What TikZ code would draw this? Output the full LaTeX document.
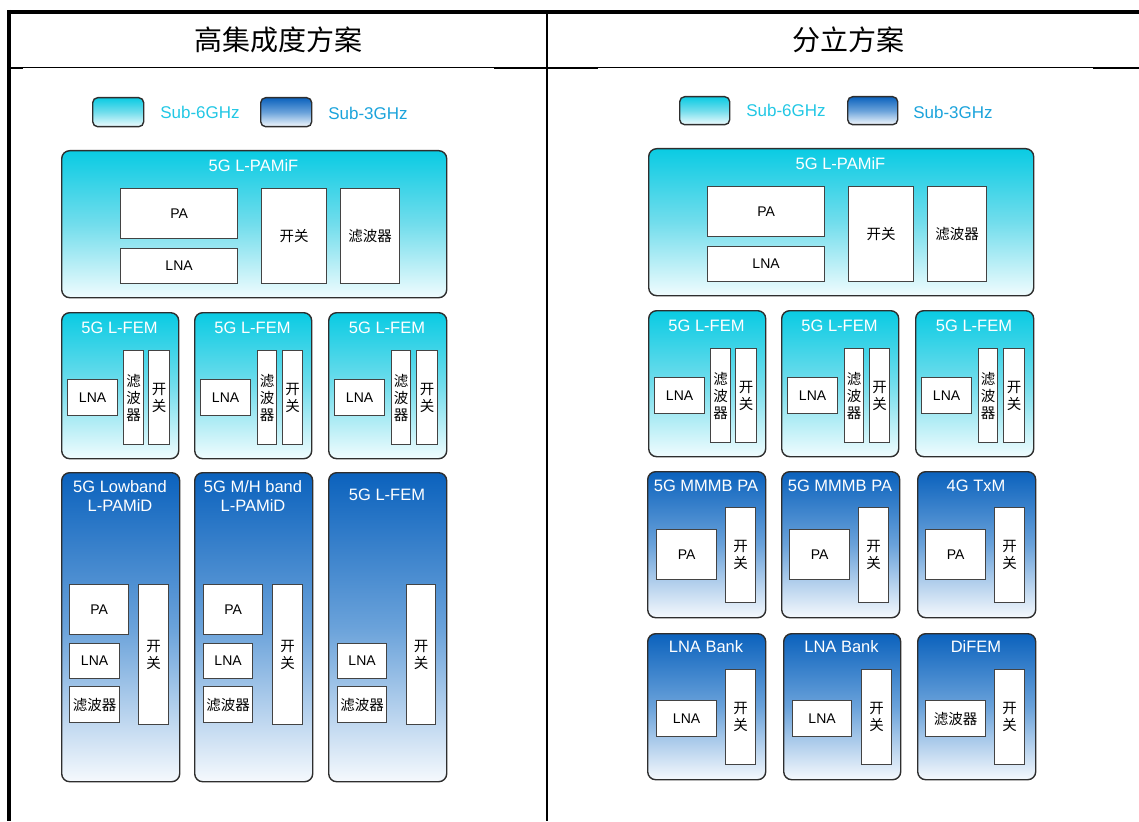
\documentclass[tikz,border=0pt]{standalone}
\usepackage{fontspec}
\setmainfont{Liberation Sans}
\newfontfamily\cjk{Noto Sans CJK SC}
\definecolor{sixtop}{HTML}{0ACBE3}
\definecolor{sixmid}{HTML}{72DDEC}
\definecolor{sixbot}{HTML}{F0FCFE}
\definecolor{thrtop}{HTML}{0B62BD}
\definecolor{thrmid}{HTML}{6AA2DA}
\definecolor{thrbot}{HTML}{F5F9FD}
\definecolor{edge}{HTML}{2E2E2E}
\definecolor{legsix}{HTML}{22C7E4}
\definecolor{legthr}{HTML}{1BA3DB}
\tikzset{
  six/.style={draw=edge, line width=1.4pt, rounded corners=8pt, top color=sixtop, bottom color=sixbot, middle color=sixmid, inner sep=0pt},
  thr/.style={draw=edge, line width=1.4pt, rounded corners=8pt, top color=thrtop, bottom color=thrbot, middle color=thrmid, inner sep=0pt},
  lsix/.style={six, rounded corners=5pt},
  lthr/.style={thr, rounded corners=5pt},
  part/.style={draw=edge!90, line width=1.2pt, fill=white, inner sep=0pt, align=center, font=\fontsize{14}{17}\selectfont},
  zpart/.style={part, font=\cjk\fontsize{14.5}{17}\selectfont},
  ttl/.style={text=white, align=center, inner sep=0pt, font=\fontsize{16.5}{19}\selectfont},
  legtxt/.style={inner sep=0pt, font=\fontsize{17}{20}\selectfont},
  head/.style={inner sep=0pt, font=\cjk\fontsize{28}{30}\selectfont}
}
\newcommand\bx[7]{\node[#1, anchor=north west, minimum width={#5-#3}, minimum height={#6-#4}] (#2) at (#3,#4) {#7};}
\begin{document}
\begin{tikzpicture}[x=1pt,y=-1pt]
\useasboundingbox (0,0) rectangle (1139,821);
% table lines
\draw[line width=4pt] (7,12) -- (1139,12);
\draw[line width=4pt] (9,10) -- (9,821);
\draw[line width=1.2pt] (9,67.5) -- (1139,67.5);
\draw[line width=2pt] (11,68) -- (23,68) (494,68) -- (598,68) (1093,68) -- (1139,68);
\draw[line width=2pt] (547,12) -- (547,821);
% headers
\node[head] (h1) at (278.5,40) {高集成度方案};
\node[head] (h2) at (848,40) {分立方案};
% legends
\bx{lsix}{lg1}{92}{97}{143}{126}{}
\node[legtxt, text=legsix] (lt1) at (200,112) {Sub-6GHz};
\bx{lthr}{lg2}{260}{97}{311}{126}{}
\node[legtxt, text=legthr] (lt2) at (368,113) {Sub-3GHz};
\bx{lsix}{lg3}{679}{96}{729}{124}{}
\node[legtxt, text=legsix] (lt3) at (786,110) {Sub-6GHz};
\bx{lthr}{lg4}{847}{96}{897}{124}{}
\node[legtxt, text=legthr] (lt4) at (953,112) {Sub-3GHz};

% ===== left column =====
\bx{six}{A}{61}{150}{446}{297}{}
\node[ttl] (At) at (253.5,166) {5G L-PAMiF};
\bx{part}{Apa}{120}{188}{237}{238}{PA}
\bx{part}{Alna}{120}{248}{237}{283}{LNA}
\bx{zpart}{Asw}{261}{188}{326}{283}{开关}
\bx{zpart}{Aflt}{340}{188}{399}{283}{滤波器}

\bx{six}{B1}{61}{312}{178}{458}{}
\node[ttl] (B1t) at (119.5,328) {5G L-FEM};
\bx{part}{B1lna}{67}{379}{117}{415}{LNA}
\bx{zpart}{B1flt}{123}{350}{143}{444}{滤\\波\\器}
\bx{zpart}{B1sw}{148}{350}{169}{444}{开\\关}

\bx{six}{B2}{194}{312}{311}{458}{}
\node[ttl] (B2t) at (252.5,328) {5G L-FEM};
\bx{part}{B2lna}{200}{379}{250}{415}{LNA}
\bx{zpart}{B2flt}{257}{350}{276}{444}{滤\\波\\器}
\bx{zpart}{B2sw}{282}{350}{302}{444}{开\\关}

\bx{six}{B3}{328}{312}{446}{458}{}
\node[ttl] (B3t) at (387,328) {5G L-FEM};
\bx{part}{B3lna}{334}{379}{384}{415}{LNA}
\bx{zpart}{B3flt}{391}{350}{410}{444}{滤\\波\\器}
\bx{zpart}{B3sw}{416}{350}{437}{444}{开\\关}

\bx{thr}{C1}{61}{472}{179}{781}{}
\node[ttl] (C1t) at (120,496) {5G Lowband\\L-PAMiD};
\bx{part}{C1pa}{69}{584}{128}{634}{PA}
\bx{part}{C1lna}{69}{643}{119}{678}{LNA}
\bx{zpart}{C1flt}{69}{686}{119}{722}{滤波器}
\bx{zpart}{C1sw}{138}{584}{168}{724}{开\\关}

\bx{thr}{C2}{194}{472}{312}{781}{}
\node[ttl] (C2t) at (253,496) {5G M/H band\\L-PAMiD};
\bx{part}{C2pa}{203}{584}{262}{634}{PA}
\bx{part}{C2lna}{203}{643}{252}{678}{LNA}
\bx{zpart}{C2flt}{203}{686}{252}{722}{滤波器}
\bx{zpart}{C2sw}{272}{584}{302}{724}{开\\关}

\bx{thr}{C3}{328}{472}{446}{781}{}
\node[ttl] (C3t) at (387,495) {5G L-FEM};
\bx{part}{C3lna}{337}{643}{386}{678}{LNA}
\bx{zpart}{C3flt}{337}{686}{386}{722}{滤波器}
\bx{zpart}{C3sw}{406}{584}{435}{724}{开\\关}

% ===== right column =====
\bx{six}{D}{648}{148}{1033}{295}{}
\node[ttl] (Dt) at (840.5,164) {5G L-PAMiF};
\bx{part}{Dpa}{707}{186}{824}{236}{PA}
\bx{part}{Dlna}{707}{246}{824}{281}{LNA}
\bx{zpart}{Dsw}{848}{186}{913}{281}{开关}
\bx{zpart}{Dflt}{927}{186}{986}{281}{滤波器}

\bx{six}{E1}{648}{310}{765}{456}{}
\node[ttl] (E1t) at (706.5,326) {5G L-FEM};
\bx{part}{E1lna}{654}{377}{704}{413}{LNA}
\bx{zpart}{E1flt}{710}{348}{730}{442}{滤\\波\\器}
\bx{zpart}{E1sw}{735}{348}{756}{442}{开\\关}

\bx{six}{E2}{781}{310}{898}{456}{}
\node[ttl] (E2t) at (839.5,326) {5G L-FEM};
\bx{part}{E2lna}{787}{377}{837}{413}{LNA}
\bx{zpart}{E2flt}{844}{348}{863}{442}{滤\\波\\器}
\bx{zpart}{E2sw}{869}{348}{889}{442}{开\\关}

\bx{six}{E3}{915}{310}{1033}{456}{}
\node[ttl] (E3t) at (974,326) {5G L-FEM};
\bx{part}{E3lna}{921}{377}{971}{413}{LNA}
\bx{zpart}{E3flt}{978}{348}{997}{442}{滤\\波\\器}
\bx{zpart}{E3sw}{1003}{348}{1024}{442}{开\\关}

\bx{thr}{F1}{647}{471}{765}{617}{}
\node[ttl] (F1t) at (706,486) {5G MMMB PA};
\bx{part}{F1pa}{656}{529}{716}{579}{PA}
\bx{zpart}{F1sw}{725}{507}{755}{602}{开\\关}

\bx{thr}{F2}{781}{471}{899}{617}{}
\node[ttl] (F2t) at (840,486) {5G MMMB PA};
\bx{part}{F2pa}{789}{529}{849}{579}{PA}
\bx{zpart}{F2sw}{858}{507}{888}{602}{开\\关}

\bx{thr}{F3}{917}{471}{1035}{617}{}
\node[ttl] (F3t) at (976,486) {4G TxM};
\bx{part}{F3pa}{925}{529}{985}{579}{PA}
\bx{zpart}{F3sw}{994}{507}{1024}{602}{开\\关}

\bx{thr}{G1}{647}{633}{765}{779}{}
\node[ttl] (G1t) at (706,647) {LNA Bank};
\bx{part}{G1lna}{656}{700}{716}{736}{LNA}
\bx{zpart}{G1sw}{725}{669}{755}{764}{开\\关}

\bx{thr}{G2}{783}{633}{900}{779}{}
\node[ttl] (G2t) at (841.5,647) {LNA Bank};
\bx{part}{G2lna}{792}{700}{851}{736}{LNA}
\bx{zpart}{G2sw}{861}{669}{891}{764}{开\\关}

\bx{thr}{G3}{917}{633}{1035}{779}{}
\node[ttl] (G3t) at (976,647) {DiFEM};
\bx{zpart}{G3flt}{925}{700}{985}{736}{滤波器}
\bx{zpart}{G3sw}{994}{669}{1024}{764}{开\\关}
\end{tikzpicture}
\end{document}
